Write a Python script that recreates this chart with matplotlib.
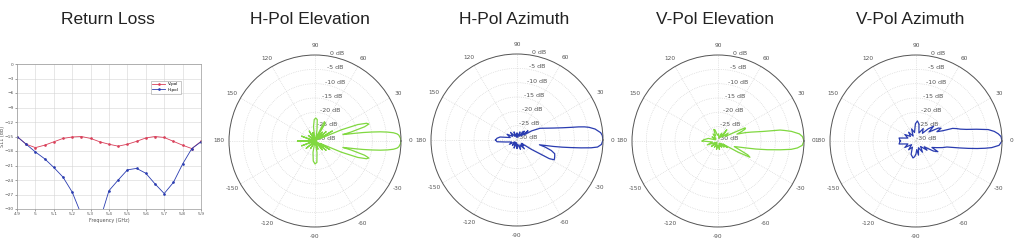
import numpy as np
import matplotlib
matplotlib.use("Agg")
import matplotlib.pyplot as plt

# ---------------- data ----------------
titles = ["Return Loss", "H-Pol Elevation", "H-Pol Azimuth", "V-Pol Elevation", "V-Pol Azimuth"]

freq_ghz = [4.9, 4.95, 5.0, 5.05, 5.1, 5.15, 5.2, 5.25, 5.3, 5.35, 5.4,
            5.45, 5.5, 5.55, 5.6, 5.65, 5.7, 5.75, 5.8, 5.85, 5.9]
rl_vpol = [-15.0, -16.6, -17.3, -16.8, -16.1, -15.4, -15.1, -15.0, -15.4, -16.1, -16.6,
           -17.0, -16.6, -16.0, -15.3, -15.0, -15.2, -16.0, -16.8, -17.5, -16.0]
rl_hpol = [-15.0, -16.6, -18.2, -19.6, -21.4, -23.4, -26.5, -31.2, -38.0, -32.4, -26.2,
           -24.0, -21.9, -21.6, -22.6, -24.8, -26.8, -24.5, -20.7, -17.5, -16.1]
rl_yticks = [0, -3, -6, -9, -12, -15, -18, -21, -24, -27, -30]
rl_xticks = [4.9, 5.0, 5.1, 5.2, 5.3, 5.4, 5.5, 5.6, 5.7, 5.8, 5.9]
rl_xticklabels = ["4.9", "5", "5.1", "5.2", "5.3", "5.4", "5.5", "5.6", "5.7", "5.8", "5.9"]
rl_legend = ["V-pol", "H-pol"]

hpol_elev = [(-180, -24), (-170, -29), (-160, -25), (-150, -30), (-140, -26), (-130, -30),
             (-120, -27), (-110, -30), (-100, -26), (-95, -23), (-90, -22), (-85, -22.5),
             (-80, -26), (-75, -30), (-70, -27), (-60, -30), (-50, -26), (-45, -30),
             (-40, -25), (-35, -30), (-30, -24), (-27, -28), (-25, -28), (-23, -20),
             (-21, -14), (-19, -11), (-17.5, -10.3), (-16, -12), (-14, -17), (-13, -20),
             (-12, -18.5), (-11, -16), (-10, -13), (-9, -10), (-8, -7), (-7, -4.5),
             (-6, -2.5), (-5, -1.3), (-4, -0.7), (-2, -0.2), (0, 0), (2, -0.2), (4, -0.7),
             (5, -1.3), (6, -2.5), (7, -4.5), (8, -7), (9, -10), (10, -13), (11, -16),
             (12, -18.5), (13, -20), (14, -17), (16, -12), (17.5, -10.3), (19, -11),
             (21, -14), (23, -20), (25, -28), (30, -23), (35, -30), (40, -25), (45, -30),
             (50, -26), (55, -30), (60, -23), (64, -22.5), (68, -28), (72, -30), (76, -28),
             (80, -26), (84, -22.5), (88, -22), (92, -22.5), (96, -25), (100, -30),
             (105, -27), (110, -30), (120, -26), (130, -30), (140, -27), (150, -30),
             (160, -25), (170, -29), (180, -24)]

hpol_azim = [(-180, -22.5), (-175, -23), (-170, -26), (-160, -28), (-150, -27), (-140, -29),
             (-130, -27.5), (-120, -29), (-110, -27), (-100, -29), (-90, -27), (-80, -28.5),
             (-70, -26.5), (-60, -28), (-50, -26), (-45, -28), (-40, -27), (-36, -28),
             (-33, -24), (-30, -17), (-28, -15.3), (-24, -15.6), (-20, -16), (-17, -17.5),
             (-14, -20), (-12, -22), (-10, -17), (-9, -14), (-8, -11), (-7, -7.5),
             (-6, -4), (-5, -1.8), (-3, -0.5), (0, 0), (3, -0.2), (5, -0.7), (8, -2.5),
             (10, -4.5), (11, -6), (12, -8), (13, -10.3), (15, -13.5), (18, -16.5),
             (22, -19), (27, -21), (32, -24), (36, -27), (40, -25), (45, -28), (50, -26),
             (55, -26.5), (60, -28.5), (70, -27), (80, -29), (90, -27.5), (100, -29),
             (110, -27), (120, -28.5), (130, -26.5), (140, -28), (150, -26), (160, -27.5),
             (170, -24), (175, -23), (180, -22.5)]

vpol_elev = [(-180, -24.5), (-170, -28), (-160, -26), (-150, -29), (-140, -27), (-130, -29.5),
             (-120, -27.5), (-110, -29), (-100, -27), (-90, -28.5), (-80, -27), (-70, -29),
             (-60, -27.5), (-50, -29), (-45, -27), (-40, -28.5), (-35, -26), (-32, -28),
             (-29, -22), (-27, -17.5), (-25, -18.5), (-22, -22), (-19, -24), (-17, -23),
             (-14, -20), (-12, -16.5), (-10, -12.5), (-8, -8), (-6.5, -4.3), (-5, -2.2),
             (-3, -0.6), (0, 0), (3, -0.5), (5, -1.5), (7.5, -4.2), (9, -6.5), (10, -8),
             (12, -14), (15, -18), (17, -20), (20, -23), (22, -21), (24, -19.5), (26, -19.5),
             (28, -24), (32, -27), (38, -25.5), (45, -28), (52, -25), (58, -28.5), (65, -27),
             (75, -29), (85, -27.5), (95, -28), (105, -26), (110, -25.7), (115, -28),
             (125, -27), (135, -29), (145, -27.5), (155, -29), (165, -26.5), (175, -25),
             (180, -24.5)]

vpol_azim = [(-180, -24.5), (-170, -24), (-160, -27), (-150, -25.5), (-140, -28), (-130, -26),
             (-120, -27.5), (-110, -25), (-100, -24), (-95, -24.5), (-90, -25.5), (-85, -27),
             (-80, -25), (-70, -27.5), (-60, -25.5), (-50, -27.5), (-40, -25), (-35, -26.5),
             (-30, -23), (-26, -21.5), (-22, -24), (-18, -22.5), (-14, -20.5), (-11, -19),
             (-9, -14.5), (-8, -11.5), (-7, -8.5), (-6, -5.8), (-5, -3.5), (-3, -1.0),
             (0, 0), (3, -0.3), (5, -1.2), (7, -2.5), (9, -4.5), (11, -8.5), (13, -12),
             (15, -14), (17, -15.2), (19, -16.5), (21, -20), (24, -22), (27, -20.2),
             (30, -21), (35, -24.5), (40, -22), (45, -24), (50, -26.5), (60, -25), (70, -27),
             (80, -24), (86, -23), (92, -24), (100, -27), (110, -25.5), (120, -28), (130, -26),
             (140, -27.5), (150, -25.5), (160, -27), (170, -24), (180, -24.5)]

polar_rticks = [-30, -25, -20, -15, -10, -5, 0]
polar_rlabels = ["-30 dB", "-25 dB", "-20 dB", "-15 dB", "-10 dB", "-5 dB", "0 dB"]
theta_ticks = [0, 30, 60, 90, 120, 150, 180, 210, 240, 270, 300, 330]
theta_labels = ["0", "30", "60", "90", "120", "150", "180", "-150", "-120", "-90", "-60", "-30"]

GREEN = "#80d840"
BLUE = "#2a3cb0"
RED = "#d9405a"

# ---------------- figure ----------------
W, H = 1017, 246
fig = plt.figure(figsize=(W / 100, H / 100), dpi=100)
fig.patch.set_facecolor("white")

title_x = [108, 310, 514, 715, 910]
for t, x in zip(titles, title_x):
    fig.text(x / W, 1 - 19 / H, t, ha="center", va="center", fontsize=12.5,
             family=["Liberation Sans Narrow", "Liberation Sans", "DejaVu Sans"], color="#222222")

# Return loss
l, r, t_, b = 17, 201, 64, 209
ax = fig.add_axes([l / W, 1 - b / H, (r - l) / W, (b - t_) / H])
ax.plot(freq_ghz, rl_vpol, color=RED, lw=0.6, marker=".", ms=1.8, label=rl_legend[0])
ax.plot(freq_ghz, rl_hpol, color=BLUE, lw=0.6, marker=".", ms=1.8, label=rl_legend[1])
ax.set_xlim(4.9, 5.9)
ax.set_ylim(-30, 0)
ax.set_yticks(rl_yticks)
ax.set_xticks(rl_xticks)
ax.set_xticklabels(rl_xticklabels)
ax.tick_params(labelsize=3.2, colors="#555555", length=1.5, width=0.4, pad=1)
ax.grid(True, color="#d5d5d5", lw=0.4)
for s in ax.spines.values():
    s.set_color("#999999")
    s.set_linewidth(0.5)
ax.set_xlabel("Frequency (GHz)", fontsize=3.5, color="#555555", labelpad=1)
ax.set_ylabel("S11 (dB)", fontsize=3.5, color="#555555")
ax.yaxis.set_label_coords(-0.065, 0.5)
leg = ax.legend(loc="upper right", bbox_to_anchor=(0.9, 0.9), fontsize=3, frameon=True,
                fancybox=False, edgecolor="#888888", handlelength=3, borderpad=0.4,
                labelspacing=0.4)
leg.get_frame().set_linewidth(0.4)

# polar plots
patterns = [hpol_elev, hpol_azim, vpol_elev, vpol_azim]
colors = [GREEN, BLUE, GREEN, BLUE]
centers = [(315, 141), (517, 140), (718, 141), (916, 141)]
radius = 86
for pat, col, (cx, cy) in zip(patterns, colors, centers):
    pax = fig.add_axes([(cx - radius) / W, 1 - (cy + radius) / H, 2 * radius / W, 2 * radius / H],
                       projection="polar")
    ang = np.radians([p[0] for p in pat])
    db = [p[1] for p in pat]
    pax.plot(ang, db, color=col, lw=0.9)
    pax.set_ylim(-30, 0)
    pax.set_rticks(polar_rticks)
    pax.set_yticklabels(polar_rlabels)
    pax.set_rlabel_position(80)
    pax.set_thetagrids(theta_ticks, labels=theta_labels)
    pax.tick_params(axis="x", labelsize=4.2, colors="#555555", pad=0, length=0)
    pax.tick_params(axis="y", labelsize=4.5, colors="#555555")
    pax.grid(True, color="#cfcfcf", lw=0.5, ls=":")
    pax.spines["polar"].set_color("#555555")
    pax.spines["polar"].set_linewidth(0.7)
    pax.set_facecolor("none")

fig.savefig("out.png", dpi=100, facecolor="white")
